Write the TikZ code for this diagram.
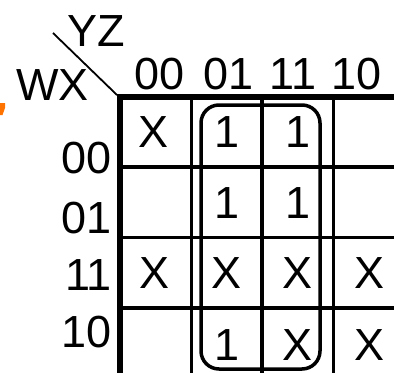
\documentclass[tikz,border=0pt]{standalone}
\usepackage{fontspec}
\setmainfont{Liberation Sans}
\begin{document}
\begin{tikzpicture}[x=1bp,y=-1bp,
  lbl/.style={inner sep=0pt,outer sep=0pt,font=\fontsize{45bp}{45bp}\selectfont},
  cell/.style={lbl,anchor=base},
  thickline/.style={line width=6.5bp,line cap=rect},
  thinline/.style={line width=3.5bp},
  grp/.style={line width=3.5bp,rounded corners=18bp}]
\useasboundingbox (0,0) rectangle (394,373);
% orange mark
\fill[orange!90!red] (0,103) -- (5,103) -- (5,108) -- (2.5,115) -- (0,115) -- cycle;
% diagonal
\coordinate (d1) at (53,33);
\coordinate (d2) at (117,95);
\draw[line width=1.8bp] (d1) -- (d2);
% grid thin lines
\foreach \x in {191.5,262,333.5} \draw[thinline] (\x,97) -- (\x,373);
\foreach \y in {167,237.5,308} \draw[thinline] (120,\y) -- (394,\y);
% thick lines
\draw[thickline] (394,97) -- (120,97) -- (120,373);
% labels
\node[lbl,anchor=base west] (yz) at (67,46) {YZ};
\node[lbl,anchor=base west] (wx) at (16,100) {WX};
\node[cell] (c00) at (160,89) {00};
\node[cell] (c01) at (229,89) {01};
\node[cell] (c11) at (293,89) {11};
\node[cell] (c10) at (357,89) {10};
\node[lbl,anchor=base east] (r00) at (112,173) {00};
\node[lbl,anchor=base east] (r01) at (112,233) {01};
\node[lbl,anchor=base east] (r11) at (112,290) {11};
\node[lbl,anchor=base east] (r10) at (112,347) {10};
% cells
\node[cell] (a00) at (154,147) {X};
\node[cell] (a01) at (227,147) {1};
\node[cell] (a02) at (298,147) {1};
\node[cell] (a11) at (227,218) {1};
\node[cell] (a12) at (298,218) {1};
\node[cell] (a20) at (155,288) {X};
\node[cell] (a21) at (227,288) {X};
\node[cell] (a22) at (298,288) {X};
\node[cell] (a23) at (370,288) {X};
\node[cell] (a31) at (227,360) {1};
\node[cell] (a32) at (298,360) {X};
\node[cell] (a33) at (370,360) {X};
% group
\draw[grp] (201,105) rectangle (320,369);
\end{tikzpicture}
\end{document}
